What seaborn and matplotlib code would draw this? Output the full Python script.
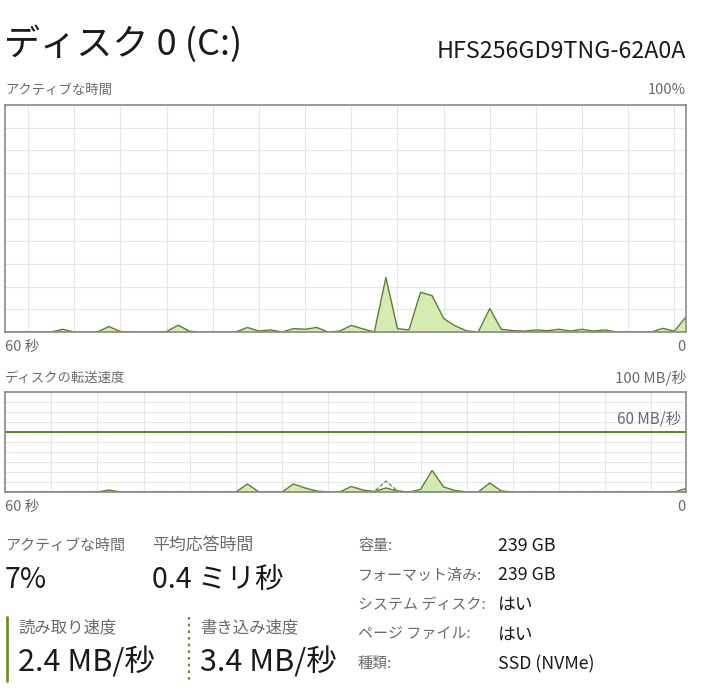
import matplotlib
matplotlib.use("Agg")
import matplotlib.pyplot as plt
import pandas as pd
import seaborn as sns

# ---------------- data ----------------
seconds = list(range(60))
active_pct = [0, 0, 0, 0, 0, 1.2, 0, 0, 0, 2.4,
              0.2, 0, 0, 0, 0.2, 3.0, 0.3, 0, 0, 0,
              0, 2.0, 0.4, 0.9, 0, 1.5, 1.2, 2.0, 0, 0.4,
              2.9, 1.4, 0, 24.0, 1.5, 0.9, 17.5, 16.0, 6.0, 2.7,
              0.5, 0, 10.3, 1.2, 0.6, 0.4, 0.9, 0.6, 1.2, 0.4,
              1.2, 0.4, 0.9, 0, 0, 0, 0, 1.6, 0.4, 6.7]
read_mbps = [0, 0, 0, 0, 0, 0, 0, 0, 0, 2.0,
             0, 0, 0, 0, 0, 0, 0, 0, 0, 0,
             0, 8.0, 0, 0, 0, 8.0, 4.0, 1.0, 0, 0,
             5.5, 2.0, 0.5, 4.0, 1.0, 0, 2.5, 21.5, 5.0, 1.5,
             0, 0, 9.0, 1.0, 0, 0, 0, 0, 0, 0,
             0, 0, 0, 0, 0, 0, 0, 0, 0, 3.5]
write_mbps = [0] * 32 + [0.5, 11.0, 1.0] + [0] * 25

title = "ディスク 0 (C:)"
model = "HFS256GD9TNG-62A0A"
stats_left = [("アクティブな時間", "7%"), ("平均応答時間", "0.4 ミリ秒")]
stats_speed = [("読み取り速度", "2.4 MB/秒"), ("書き込み速度", "3.4 MB/秒")]
prop_labels = ["容量:", "フォーマット済み:", "システム ディスク:", "ページ ファイル:", "種類:"]
prop_values = ["239 GB", "239 GB", "はい", "はい", "SSD (NVMe)"]

df = pd.DataFrame({"t": seconds, "active": active_pct,
                   "read": read_mbps, "write": write_mbps})

# ---------------- style ----------------
sns.set_theme(style="white")
plt.rcParams["font.family"] = ["Noto Sans CJK JP", "DejaVu Sans"]

W, H = 713, 700
fig = plt.figure(figsize=(W / 100, H / 100), dpi=100)
fig.patch.set_facecolor("white")

FILL = "#d4ecb2"
EDGE = "#5d7d33"
GRID = "#e6e6e6"
BORDER = "#8a8a8a"
GRAYTXT = "#6a6a6a"
BLACK = "#1a1a1a"


def px_axes(x0, y0, x1, y1):
    return fig.add_axes([x0 / W, 1 - y1 / H, (x1 - x0) / W, (y1 - y0) / H])


def ftext(x, y, s, size, color, ha="left", va="center", **kw):
    fig.text(x / W, 1 - y / H, s, fontsize=size, color=color, ha=ha, va=va, **kw)


def style_ax(ax, xt):
    ax.set_xlim(0, 59)
    ax.set_ylim(0, 100)
    ax.set_xticks(xt)
    ax.set_yticks(range(0, 101, 10))
    ax.grid(True, color=GRID, lw=0.8)
    ax.tick_params(length=0, labelbottom=False, labelleft=False)
    ax.set_xlabel("")
    ax.set_ylabel("")
    for sp in ax.spines.values():
        sp.set_color(BORDER)
        sp.set_linewidth(1.2)
    ax.set_axisbelow(True)


# ---------------- top chart: active time ----------------
ax1 = px_axes(5, 105, 686, 332)
ax1.fill_between(df["t"], df["active"], color=FILL, lw=0)
sns.lineplot(data=df, x="t", y="active", ax=ax1, color=EDGE, lw=1.0)
style_ax(ax1, list(range(2, 59, 4)))

# ---------------- bottom chart: transfer rate ----------------
ax2 = px_axes(5, 392, 686, 492)
ax2.fill_between(df["t"], df["read"], color=FILL, lw=0)
sns.lineplot(data=df, x="t", y="read", ax=ax2, color=EDGE, lw=1.0)
sns.lineplot(data=df, x="t", y="write", ax=ax2, color=EDGE, lw=0.8, linestyle="--")
ax2.axhline(60, color="#4f7a1c", lw=1.3)
style_ax(ax2, list(range(0, 59, 4)))
ax2.text(0.992, 0.73, "60 MB/秒", transform=ax2.transAxes, ha="right", va="center",
         fontsize=11, color=GRAYTXT)

# ---------------- header texts ----------------
ftext(4, 44, title, 26, BLACK)
ftext(686, 52, model, 16.8, BLACK, ha="right")
ftext(5, 90, "アクティブな時間", 9.6, GRAYTXT)
ftext(686, 90, "100%", 10.5, GRAYTXT, ha="right")
ftext(5, 347, "60 秒", 10.5, GRAYTXT)
ftext(686, 347, "0", 10.5, GRAYTXT, ha="right")
ftext(5, 378, "ディスクの転送速度", 9.6, GRAYTXT)
ftext(686, 378, "100 MB/秒", 10.8, GRAYTXT, ha="right")
ftext(5, 507, "60 秒", 10.5, GRAYTXT)
ftext(686, 507, "0", 10.5, GRAYTXT, ha="right")

# ---------------- stats ----------------
for (lab, val), x, ls in zip(stats_left, [5, 152], [10.8, 12.2]):
    ftext(x, 546, lab, ls, GRAYTXT)
    ftext(x, 580, val, 20.5, BLACK)

for (lab, val), x in zip(stats_speed, [18, 200]):
    ftext(x, 628, lab, 11.8, GRAYTXT)
    ftext(x, 663, val, 22, BLACK)

fig.add_artist(plt.Line2D([7 / W, 7 / W], [1 - 617 / H, 1 - 681 / H],
                          color="#6f8f2e", lw=2.0, transform=fig.transFigure))
fig.add_artist(plt.Line2D([189 / W, 189 / W], [1 - 617 / H, 1 - 681 / H],
                          color="#6f8f2e", lw=1.6, linestyle=(0, (1.2, 1.8)),
                          transform=fig.transFigure))

for i, (lab, val) in enumerate(zip(prop_labels, prop_values)):
    y = 546 + i * 29.5
    ftext(358, y, lab, 10.8, GRAYTXT)
    ftext(498, y, val, 12.8, BLACK)

fig.savefig("out.png", dpi=100, facecolor="white")
